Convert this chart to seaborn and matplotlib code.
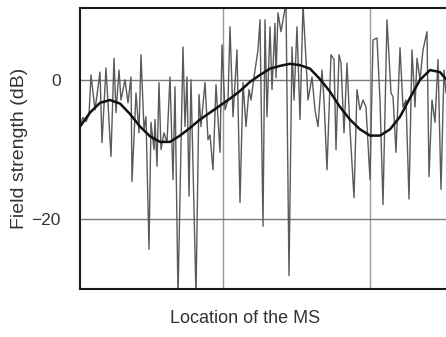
import matplotlib
matplotlib.use("Agg")
import matplotlib.pyplot as plt
import seaborn as sns
import pandas as pd

# Location of the MS (arbitrary units) and field strength (dB)
fast_loc = [0, 3, 6, 9, 11, 15, 20, 22, 26, 31, 34, 36, 39, 41, 45, 48, 51, 52, 56, 59,
            61, 64, 66, 69, 71, 74, 75, 77, 79, 81, 84, 87, 90, 93, 95, 98, 103, 105, 107, 109,
            111, 116, 119, 121, 125, 128, 130, 133, 136, 140, 142, 145, 148, 150, 153, 157, 160, 163, 166, 169,
            171, 174, 178, 180, 183, 185, 187, 190, 192, 195, 196, 198, 201, 203, 206, 209, 212, 214, 217, 220,
            223, 226, 228, 232, 235, 238, 242, 244, 247, 251, 254, 256, 259, 261, 264, 267, 270, 274, 277, 280,
            283, 286, 290, 293, 297, 300, 303, 307, 311, 313, 316, 320, 323, 326, 329, 332, 335, 337, 340, 343,
            347, 349, 352, 355, 358, 361, 364, 366]
fast_db = [-6.4, -5.4, -6.0, -5.0, 0.7, -4.3, 1.1, -9.0, 1.7, -11.0, 3.1, -4.7, 1.4, -2.9, 0.0, -3.3, 0.4, -14.6, -1.9, -7.6,
           3.6, -7.1, -5.3, -24.3, -6.1, -10.0, -5.7, -12.4, -0.4, -10.0, -7.6, -9.0, 0.4, -14.3, -1.0, -31.0, 4.7, -6.7, 0.4, -16.7,
           0.0, -31.0, -2.1, -6.7, -0.4, -8.6, -7.9, -12.9, -0.7, -10.4, 5.0, -4.3, -2.9, 7.6, -5.3, 4.3, -17.6, -0.4, -6.7, -1.4,
           -2.9, 0.4, 4.3, 8.6, -21.0, 8.6, -5.3, 7.6, -1.4, 8.1, 0.3, 9.6, 6.9, 8.6, 11.0, -28.1, 4.7, -2.9, 7.6, -5.7,
           10.7, 2.9, -2.9, 0.4, -4.3, -6.7, 1.4, -2.9, -12.9, 3.6, 2.9, -10.0, 3.6, 2.4, -7.6, 2.4, -7.1, -16.9, -1.4, -4.3,
           -2.9, -3.9, -14.3, 5.7, 6.0, -2.9, -17.9, 8.6, -1.9, -2.4, -10.4, 4.6, -3.9, -2.9, -17.1, 4.3, -3.9, 3.1, 0.0, 4.3,
           6.9, -13.9, -2.9, -6.1, 2.9, -15.7, 1.4, -1.9]

slow_loc = [0, 10, 20, 30, 40, 50, 60, 70, 80, 90, 100, 110, 120, 130, 140, 150, 160, 170, 180,
            190, 200, 210, 220, 230, 240, 250, 260, 270, 280, 290, 300, 310, 320, 330, 340, 350, 360, 366]
slow_db = [-6.7, -4.7, -3.3, -2.9, -3.4, -4.9, -6.7, -8.1, -8.9, -8.9, -8.0, -6.9, -5.7, -4.7, -3.7, -2.7, -1.6, -0.3, 0.7,
           1.6, 2.0, 2.3, 2.1, 1.6, 0.1, -1.7, -3.9, -5.7, -7.1, -8.0, -8.0, -7.1, -5.3, -2.6, 0.0, 1.4, 1.1, 0.1]

y_ticks = [0, -20]
y_tick_labels = ["0", "\u221220"]
x_grid = [143, 290]

sns.set_theme(style="white")
plt.rcParams["font.family"] = ["Liberation Sans", "DejaVu Sans"]

fig = plt.figure(figsize=(4.46, 3.37), dpi=100)
ax = fig.add_axes([80 / 446, 1 - 289 / 337, 1 - 80 / 446, (289 - 8) / 337])

fast = pd.DataFrame({"loc": fast_loc, "db": fast_db})
slow = pd.DataFrame({"loc": slow_loc, "db": slow_db})

for xv in x_grid:
    ax.axvline(xv, color="#9a9a9a", lw=1.0, zorder=0)
for yv in y_ticks:
    ax.axhline(yv, color="#7a7a7a", lw=1.0, zorder=0)

sns.lineplot(data=fast, x="loc", y="db", ax=ax, color="#5a5a5a", lw=1.0,
             estimator=None, sort=False, zorder=2)
sns.lineplot(data=slow, x="loc", y="db", ax=ax, color="#111111", lw=1.8,
             estimator=None, sort=False, zorder=3)

ax.set_xlim(0, 366)
ax.set_ylim(-30.0, 10.3)
ax.set_xticks([])
ax.set_yticks(y_ticks)
ax.set_yticklabels(y_tick_labels)
ax.tick_params(axis="y", length=0, pad=14, labelsize=12.5, labelcolor="#333333")

for side in ["left", "top", "bottom"]:
    ax.spines[side].set_color("#1a1a1a")
    ax.spines[side].set_linewidth(1.5)
ax.spines["right"].set_visible(False)

ax.set_xlabel("Location of the MS", fontsize=13, color="#333333")
ax.xaxis.set_label_coords(0.45, -0.075)
ax.set_ylabel("Field strength (dB)", fontsize=14, color="#333333")
ax.yaxis.set_label_coords(-0.143, 0.5)

fig.savefig("out.png", dpi=100)
